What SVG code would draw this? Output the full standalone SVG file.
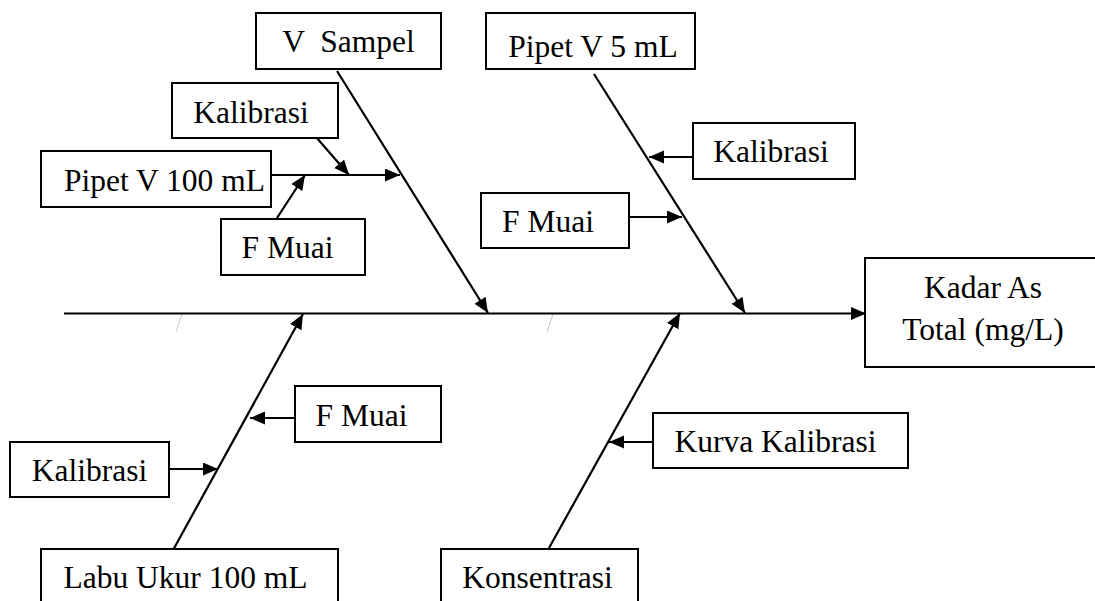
<svg xmlns="http://www.w3.org/2000/svg" width="1095" height="601" viewBox="0 0 1095 601">
<style>
.box{fill:#fff;stroke:#000;stroke-width:2}
.t{font-family:"Liberation Serif","Times New Roman",serif;font-size:31.5px;fill:#000;text-anchor:middle}
.c{fill:none;stroke:#000;stroke-width:2.2;marker-end:url(#ah)}
.f{stroke:#c8c8c8;stroke-width:1}
</style>
<defs>
<marker id="ah" markerUnits="userSpaceOnUse" markerWidth="16" markerHeight="14" refX="15" refY="6.5" orient="auto">
<path d="M0,0 L15,6.5 L0,13 z" fill="#000"/>
</marker>
</defs>
<rect width="1095" height="601" fill="#fff"/>
<line class="f" x1="182" y1="314" x2="176" y2="332"/>
<line class="f" x1="553" y1="314" x2="547" y2="332"/>
<g id="connectors">
<path class="c" d="M64,313.5 H866"/>
<path class="c" d="M337,71 L488,313"/>
<path class="c" d="M594,74 L745,313"/>
<path class="c" d="M172,552 L303,314"/>
<path class="c" d="M549,548 L680,313"/>
<path class="c" d="M271,175 H400"/>
<path class="c" d="M316,137 L349,175"/>
<path class="c" d="M277,218 L305,175"/>
<path class="c" d="M693,157 H649"/>
<path class="c" d="M629,217 H682"/>
<path class="c" d="M295,418 H250"/>
<path class="c" d="M169,469 H218"/>
<path class="c" d="M653,442 H609"/>
</g>
<g id="n-vsampel"><rect class="box" x="256" y="13" width="185" height="56"/><text class="t" x="348.5" y="52" xml:space="preserve">V  Sampel</text></g>
<g id="n-pipet5"><rect class="box" x="486" y="13" width="209" height="56"/><text class="t" x="593" y="57">Pipet V 5 mL</text></g>
<g id="n-kal-tl"><rect class="box" x="172" y="83" width="166" height="55"/><text class="t" x="251" y="123">Kalibrasi</text></g>
<g id="n-pipet100"><rect class="box" x="41" y="151" width="230" height="56"/><text class="t" x="164.5" y="191">Pipet V 100 mL</text></g>
<g id="n-fmuai-tl"><rect class="box" x="221" y="219" width="144" height="56"/><text class="t" x="287.5" y="258">F Muai</text></g>
<g id="n-kal-tr"><rect class="box" x="693" y="123" width="162" height="56"/><text class="t" x="771" y="162">Kalibrasi</text></g>
<g id="n-fmuai-r"><rect class="box" x="481" y="193" width="148" height="55"/><text class="t" x="548" y="232">F Muai</text></g>
<g id="n-kadar"><rect class="box" x="865" y="258" width="236" height="109"/><text class="t" x="983" y="298">Kadar As</text><text class="t" x="983" y="340">Total (mg/L)</text></g>
<g id="n-fmuai-b"><rect class="box" x="295" y="386" width="146" height="56"/><text class="t" x="361.5" y="426">F Muai</text></g>
<g id="n-kal-b"><rect class="box" x="10" y="442" width="159" height="55"/><text class="t" x="89.5" y="481">Kalibrasi</text></g>
<g id="n-kurva"><rect class="box" x="653" y="413" width="255" height="55"/><text class="t" x="775.5" y="452">Kurva Kalibrasi</text></g>
<g id="n-labu"><rect class="box" x="41" y="549" width="297" height="60"/><text class="t" x="185.5" y="588">Labu Ukur 100 mL</text></g>
<g id="n-konsentrasi"><rect class="box" x="441" y="549" width="197" height="60"/><text class="t" x="537.5" y="588">Konsentrasi</text></g>
</svg>
